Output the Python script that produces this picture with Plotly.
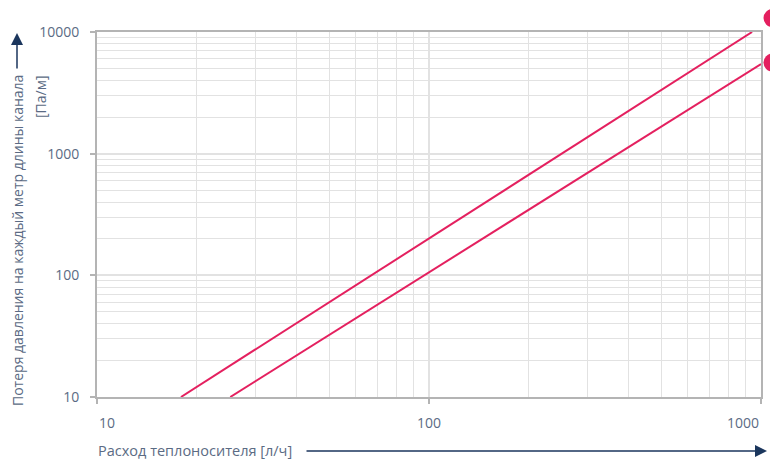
import math
import plotly.graph_objects as go

# Pressure loss per metre vs. flow rate (log-log), two channel sizes
flow_1 = [17.9, 100, 940]
loss_1 = [10, 200, 10000]
flow_2 = [25.2, 100, 1000]
loss_2 = [10, 106, 5450]

# label circles to the right of each curve end
label_flow = [1083, 1083]
label_loss = [13030, 5610]

x_ticks = [10, 100, 1000]
x_ticklabels = ["10", "100", "1000"]
y_ticks = [10, 100, 1000, 10000]
y_ticklabels = ["10", "100", "1000", "10000"]

x_minor = [m * d for d in (10, 100) for m in range(2, 10)]
y_minor = [m * d for d in (10, 100, 1000) for m in range(2, 10)]

red = "#e4205f"
navy = "#1b365d"
txt = "#5b6b84"
grid = "#e2e2e2"
axis = "#b4b4b4"
fnt = "Open Sans"

# plot box in pixels: x 97..761, y 32..397 ; figure 770x459
W, H = 770, 459
L, B = 97, 62
pw, ph = 664, 365
fw, fh = W - L, H - B          # paper area right/above the plot box
xd = pw / fw
yd = ph / fh
x_range = [1, 3]
y_range = [1, 4]

fig = go.Figure()
fig.add_trace(go.Scatter(x=flow_1, y=loss_1, mode="lines",
                         line=dict(color=red, width=2), showlegend=False))
fig.add_trace(go.Scatter(x=flow_2, y=loss_2, mode="lines",
                         line=dict(color=red, width=2), showlegend=False))

fig.update_layout(
    xaxis=dict(type="log", range=x_range, domain=[0, xd], anchor="y",
               tickvals=x_ticks, showticklabels=False, automargin=False,
               ticks="outside", ticklen=5, tickcolor=axis, tickwidth=2,
               showline=True, linecolor=axis, linewidth=2, mirror=True,
               showgrid=True, gridcolor=grid, gridwidth=1.5, zeroline=False,
               minor=dict(tickvals=x_minor, showgrid=True, gridcolor=grid,
                          gridwidth=1, ticks="")),
    yaxis=dict(type="log", range=y_range, domain=[0, yd], anchor="x",
               tickvals=y_ticks, ticktext=y_ticklabels, automargin=False,
               ticks="outside", ticklen=5, tickcolor=axis, tickwidth=2,
               ticklabelstandoff=8,
               tickfont=dict(family=fnt, size=14, color=txt),
               showline=True, linecolor=axis, linewidth=2, mirror=True,
               showgrid=True, gridcolor=grid, gridwidth=1.5, zeroline=False,
               minor=dict(tickvals=y_minor, showgrid=True, gridcolor=grid,
                          gridwidth=1, ticks="")),
)

# label circles lie outside the axis box, so place them in paper space
# using the same log scale as the axes
def paper_x(v):
    return (math.log10(v) - x_range[0]) / (x_range[1] - x_range[0]) * xd

def paper_y(v):
    return (math.log10(v) - y_range[0]) / (y_range[1] - y_range[0]) * yd

for fx, fy in zip(label_flow, label_loss):
    fig.add_shape(type="circle", xref="paper", yref="paper",
                  xsizemode="pixel", ysizemode="pixel",
                  xanchor=paper_x(fx), yanchor=paper_y(fy),
                  x0=-9, x1=9, y0=-9, y1=9,
                  fillcolor=red, line=dict(width=0), layer="above")

# x tick labels kept inside the plot width like the original
anchors = ["left", "center", "right"]
for v, t, a in zip(x_ticks, x_ticklabels, anchors):
    fig.add_annotation(x=math.log10(v), y=0, xref="x", yref="paper", yshift=-25,
                       text=t, showarrow=False, xanchor=a, yanchor="middle",
                       font=dict(family=fnt, size=14, color=txt))

def px_x(p):
    return (p - L) / fw

def px_y(p):
    return (H - B - p) / fh

# axis titles with arrows
fig.add_annotation(x=px_x(96), y=px_y(450), xref="paper", yref="paper",
                   xanchor="left", yanchor="middle", showarrow=False,
                   text="Расход теплоносителя [л/ч]",
                   font=dict(family=fnt, size=14.5, color=txt))
fig.add_annotation(x=px_x(767), y=px_y(451), ax=-462, ay=0, xref="paper",
                   yref="paper", axref="pixel", ayref="pixel", text="",
                   showarrow=True, arrowhead=2, arrowsize=1.6, arrowwidth=1.5,
                   arrowcolor=navy)

fig.add_annotation(x=px_x(17), y=px_y(241), xref="paper", yref="paper",
                   textangle=-90, xanchor="center", yanchor="middle",
                   showarrow=False,
                   text="Потеря давления на каждый метр длины канала",
                   font=dict(family=fnt, size=14, color=txt))
fig.add_annotation(x=px_x(40), y=px_y(97), xref="paper", yref="paper",
                   textangle=-90, xanchor="center", yanchor="middle",
                   showarrow=False, text="[Па/м]",
                   font=dict(family=fnt, size=14, color=txt))
fig.add_annotation(x=px_x(17), y=px_y(33), ax=0, ay=37, xref="paper", yref="paper",
                   axref="pixel", ayref="pixel", text="", showarrow=True,
                   arrowhead=2, arrowsize=1.6, arrowwidth=1.5, arrowcolor=navy)

fig.update_layout(width=W, height=H, paper_bgcolor="white",
                  plot_bgcolor="white",
                  margin=dict(l=L, r=0, t=0, b=B, autoexpand=False),
                  showlegend=False)

# drop the browser's default body margin so the figure sits at the page corner
fig.write_html("out.html", config={"displayModeBar": False},
               post_script="document.body.style.margin='0';")
